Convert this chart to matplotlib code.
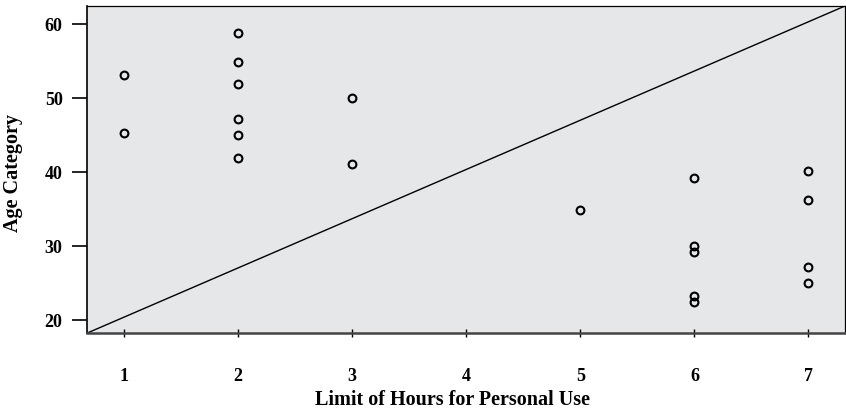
import numpy as np
import matplotlib.pyplot as plt

# hours limit (x) and age (y)
hours = [1, 1,
         2, 2, 2, 2, 2, 2,
         3, 3,
         5,
         6, 6, 6, 6, 6,
         7, 7, 7, 7]
age = [53.2, 45.3,
       58.8, 54.9, 51.9, 47.2, 45.0, 41.9,
       50.0, 41.1,
       34.9,
       39.2, 30.0, 29.2, 23.3, 22.5,
       40.2, 36.3, 27.2, 25.0]

x_ticks = [1, 2, 3, 4, 5, 6, 7]
y_ticks = [20, 30, 40, 50, 60]

plt.rcParams['font.family'] = ['Liberation Serif', 'DejaVu Serif']
plt.rcParams['font.weight'] = 'bold'

my_dpi = 100
fig = plt.figure(figsize=(846/my_dpi, 412/my_dpi), dpi=my_dpi)
ax = fig.add_axes([87.3/846, 1 - 333/412, (845 - 87.3)/846, (333 - 6)/412])
ax.set_facecolor('#e6e7e9')

ax.plot(hours, age, linestyle='none', marker='o', markersize=5.6,
        markerfacecolor='none', markeredgecolor='black', markeredgewidth=1.5)

# reference diagonal across the plot area
ax.plot([0, 1], [0, 1], transform=ax.transAxes, color='black', linewidth=1)

ax.set_xlim(0.678, 7.32)
ax.set_ylim(18.3, 62.5)
ax.set_xticks(x_ticks)
ax.set_yticks(y_ticks)

ax.tick_params(axis='x', direction='inout', length=5.8, width=1, pad=22.5,
               labelsize=13)
ax.tick_params(axis='y', direction='out', length=10.8, width=1.2, pad=7,
               labelsize=13)

for s in ['top', 'right']:
    ax.spines[s].set_linewidth(0.9)
ax.spines['left'].set_linewidth(1.2)
ax.spines['bottom'].set_linewidth(1.8)
ax.spines['bottom'].set_color('#444444')

ax.set_xlabel('Limit of Hours for Personal Use', fontsize=14.5,
              fontweight='bold')
ax.xaxis.set_label_coords(0.482, -0.206, transform=ax.transAxes)
ax.xaxis.label.set_va('center')
ax.set_ylabel('Age Category', fontsize=14.5, fontweight='bold')
ax.yaxis.set_label_coords(-0.098, 0.49, transform=ax.transAxes)
ax.yaxis.label.set_va('center')

plt.savefig("out.png", dpi=my_dpi)
